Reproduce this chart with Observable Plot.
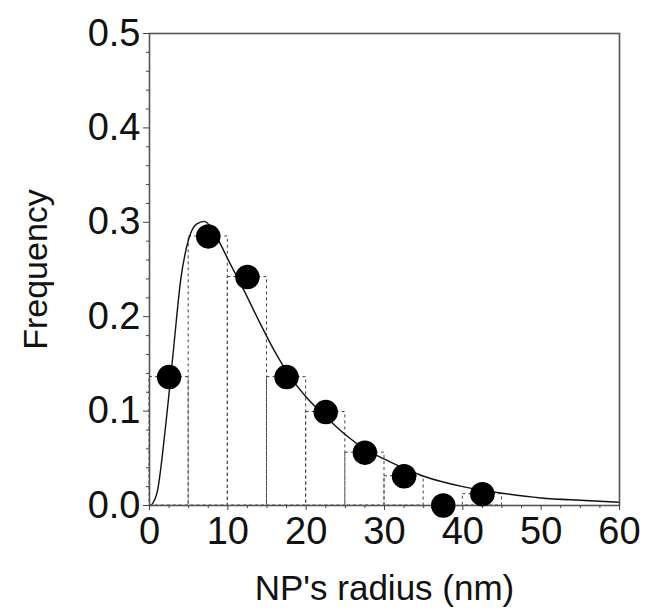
<!DOCTYPE html>
<html>
<head>
<meta charset="utf-8">
<script src="https://cdn.jsdelivr.net/npm/d3@7"></script>
<script src="https://cdn.jsdelivr.net/npm/@observablehq/plot@0.6"></script>
<style>
  html, body { margin: 0; padding: 0; background: #fff; }
  svg { display: block; }
</style>
</head>
<body>
<div id="chart"></div>
<script>
// Histogram bins (nm) and measured frequencies
const binStart = [0, 5, 10, 15, 20, 25, 30, 35, 40];
const binEnd   = [5, 10, 15, 20, 25, 30, 35, 40, 45];
const binCenter = [2.5, 7.5, 12.5, 17.5, 22.5, 27.5, 32.5, 37.5, 42.5];
const frequency = [0.136, 0.285, 0.242, 0.136, 0.099, 0.056, 0.031, 0.0, 0.012];

// Fitted curve
const curveX = [0.2, 1, 2, 3, 4, 5, 6, 7, 8, 9, 10, 12, 14, 16, 18, 20, 22.5, 25, 27.5, 30, 35, 40, 45, 50, 55, 60];
const curveY = [0, 0.015, 0.08, 0.16, 0.24, 0.282, 0.298, 0.301, 0.293, 0.278, 0.261, 0.229, 0.195, 0.163, 0.136, 0.115, 0.094, 0.075, 0.060, 0.049, 0.031, 0.020, 0.013, 0.008, 0.0055, 0.0035];

// Tick values
const xMajor = [0, 10, 20, 30, 40, 50, 60];
const xMinor = d3.range(0, 60.01, 2.5).filter(v => v % 10 !== 0);
const yMajor = [0, 0.1, 0.2, 0.3, 0.4, 0.5];
const yMinor = d3.range(0, 0.5001, 0.02).map(v => +v.toFixed(2)).filter(v => Math.abs(v * 10 - Math.round(v * 10)) > 1e-6);

const xTitle = "NP's radius (nm)";
const yTitle = "Frequency";

const bins = binStart.map((s, i) => ({x1: s, x2: binEnd[i], y: frequency[i]}));
const points = binCenter.map((c, i) => ({x: c, y: frequency[i]}));
const fit = curveX.map((x, i) => ({x, y: curveY[i]}));

const chart = Plot.plot({
  width: 651,
  height: 612,
  marginLeft: 149,
  marginRight: 32,
  marginTop: 33,
  marginBottom: 107,
  style: {fontFamily: "'Liberation Sans', Arial, sans-serif", color: "#111", background: "#fff"},
  x: {domain: [0, 60]},
  y: {domain: [0, 0.5]},
  marks: [
    Plot.rectY(bins.filter(d => d.y > 0), {x1: "x1", x2: "x2", y: "y", fill: "none", stroke: "#444", strokeWidth: 1, strokeDasharray: "3,3"}),
    Plot.line(fit, {x: "x", y: "y", curve: "monotone-x", stroke: "#111", strokeWidth: 1.4}),
    Plot.frame({stroke: "#555", strokeWidth: 1.6}),
    Plot.axisX({ticks: xMinor, tickSize: 3, text: null, label: null, stroke: "#444"}),
    Plot.axisY({ticks: yMinor, tickSize: 3, text: null, label: null, stroke: "#444"}),
    Plot.axisX({ticks: xMajor, tickSize: 5, tickPadding: 7, fontSize: 38, tickFormat: d => String(d), label: null, stroke: "#444", fill: "#111"}),
    Plot.axisY({ticks: yMajor, tickSize: 6, tickPadding: 3, fontSize: 38, tickFormat: d3.format(".1f"), label: null, stroke: "#444", fill: "#111"}),
    Plot.dot(points, {x: "x", y: "y", r: 11.5, fill: "#000", stroke: "#000"}),
    Plot.text([xTitle], {frameAnchor: "bottom", lineAnchor: "middle", textAnchor: "middle", dy: 83, fontSize: 35, fill: "#111"}),
    Plot.text([yTitle], {frameAnchor: "left", lineAnchor: "middle", textAnchor: "middle", dx: -113, rotate: -90, fontSize: 34, fill: "#111"})
  ]
});

document.getElementById("chart").appendChild(chart);
</script>
</body>
</html>
